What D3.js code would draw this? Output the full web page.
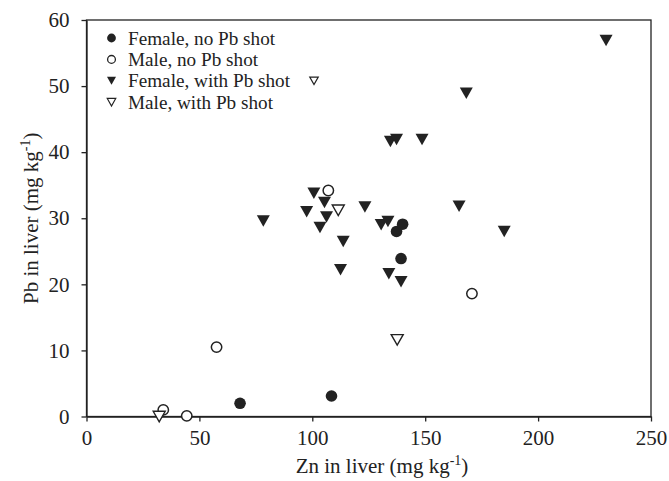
<!DOCTYPE html>
<html>
<head>
<meta charset="utf-8">
<script src="https://cdn.jsdelivr.net/npm/d3@7"></script>
<style>
  html, body { margin: 0; padding: 0; background: #fff; }
  svg { display: block; }
  text { font-family: "Liberation Serif", "Times New Roman", serif; fill: #222; }
</style>
</head>
<body>
<script>
// ---- data (Zn mg/kg, Pb mg/kg) ----
const femaleNoShotZn = [68, 108.5, 137.3, 140, 139.3];
const femaleNoShotPb = [2.0, 3.1, 28.0, 29.1, 23.9];

const maleNoShotZn = [34, 44.4, 57.6, 107.1, 170.7];
const maleNoShotPb = [1.0, 0.1, 10.5, 34.2, 18.6];

const femaleShotZn = [78.3, 100.7, 105.4, 97.5, 106.3, 103.4, 123.3, 113.7, 112.5, 130.5,
                      133.5, 134.6, 137.3, 148.6, 165, 133.9, 139.3, 230.1, 168.2, 185];
const femaleShotPb = [29.6, 33.8, 32.4, 31.0, 30.2, 28.6, 31.7, 26.5, 22.2, 29.0,
                      29.5, 41.6, 41.9, 41.9, 31.8, 21.6, 20.4, 56.9, 48.9, 28.0];

const maleShotZn = [32.2, 111.5, 137.6];
const maleShotPb = [0, 31.2, 11.6];

const xTicks = [0, 50, 100, 150, 200, 250];
const yTicks = [0, 10, 20, 30, 40, 50, 60];
const legendLabels = ["Female, no Pb shot", "Male, no Pb shot", "Female, with Pb shot", "Male, with Pb shot"];

// ---- layout ----
const W = 669, H = 481;
const pL = 86.5, pR = 651, pT = 20, pB = 416.5;
const ink = "#222";
const FS = 21;
const LFS = 19.2;

const svg = d3.select("body").append("svg").attr("width", W).attr("height", H);
svg.append("rect").attr("width", W).attr("height", H).attr("fill", "#fff");

const x = d3.scaleLinear().domain([0, 250]).range([pL, pR]);
const y = d3.scaleLinear().domain([0, 60]).range([pB, pT]);

// frame
svg.append("rect").attr("x", pL).attr("y", pT).attr("width", pR - pL).attr("height", pB - pT)
  .attr("fill", "none").attr("stroke", ink).attr("stroke-width", 1.3);

const xAxis = svg.append("g").attr("transform", `translate(0,${pB})`)
  .call(d3.axisBottom(x).tickValues(xTicks).tickSize(5).tickSizeOuter(0).tickPadding(9).tickFormat(d3.format("d")));
const yAxis = svg.append("g").attr("transform", `translate(${pL},0)`)
  .call(d3.axisLeft(y).tickValues(yTicks).tickSize(5).tickSizeOuter(0).tickPadding(12).tickFormat(d3.format("d")));
[xAxis, yAxis].forEach(g => {
  g.select(".domain").attr("stroke", ink).attr("stroke-width", 1.3);
  g.selectAll(".tick line").attr("stroke", ink).attr("stroke-width", 1.3);
  g.selectAll(".tick text").attr("font-size", FS).attr("fill", ink)
    .style("font-family", '"Liberation Serif", "Times New Roman", serif');
});

// axis titles
const xt = svg.append("text").attr("x", 382).attr("y", 473).attr("text-anchor", "middle").attr("font-size", FS);
xt.append("tspan").text("Zn in liver (mg kg");
xt.append("tspan").attr("font-size", 14).attr("dy", -8).text("-1");
xt.append("tspan").attr("dy", 8).text(")");

const yt = svg.append("text").attr("transform", `translate(38,${(pT + pB) / 2}) rotate(-90)`)
  .attr("text-anchor", "middle").attr("font-size", FS);
yt.append("tspan").text("Pb in liver (mg kg");
yt.append("tspan").attr("font-size", 14).attr("dy", -8).text("-1");
yt.append("tspan").attr("dy", 8).text(")");

// marker helpers
function tri(w, h) { return `M${-w/2},${-h/2}L${w/2},${-h/2}L0,${h/2}Z`; }
function zip(a, b) { return a.map((v, i) => [v, b[i]]); }

const plot = svg.append("g");

plot.selectAll(".fc").data(zip(femaleNoShotZn, femaleNoShotPb)).join("circle")
  .attr("cx", d => x(d[0])).attr("cy", d => y(d[1])).attr("r", 5.8).attr("fill", ink);
plot.selectAll(".mc").data(zip(maleNoShotZn, maleNoShotPb)).join("circle")
  .attr("cx", d => x(d[0])).attr("cy", d => y(d[1])).attr("r", 5.2)
  .attr("fill", "#fff").attr("stroke", ink).attr("stroke-width", 1.5);
plot.selectAll(".ft").data(zip(femaleShotZn, femaleShotPb)).join("path")
  .attr("transform", d => `translate(${x(d[0])},${y(d[1])})`).attr("d", tri(13, 11.5)).attr("fill", ink);
plot.selectAll(".mt").data(zip(maleShotZn, maleShotPb)).join("path")
  .attr("transform", d => `translate(${x(d[0])},${y(d[1])})`).attr("d", tri(12, 10.5))
  .attr("fill", "#fff").attr("stroke", ink).attr("stroke-width", 1.4);

// legend
const lg = svg.append("g");
const rowY = [38, 59.4, 80.8, 102.2];
const mx = 111.5, tx = 128;
lg.append("circle").attr("cx", mx).attr("cy", rowY[0]).attr("r", 4.4).attr("fill", ink);
lg.append("circle").attr("cx", mx).attr("cy", rowY[1]).attr("r", 3.9).attr("fill", "#fff").attr("stroke", ink).attr("stroke-width", 1.3);
lg.append("path").attr("transform", `translate(${mx},${rowY[2]})`).attr("d", tri(9, 8)).attr("fill", ink);
lg.append("path").attr("transform", `translate(${mx},${rowY[3]})`).attr("d", tri(8.5, 7.5)).attr("fill", "#fff").attr("stroke", ink).attr("stroke-width", 1.2);
lg.append("path").attr("transform", `translate(314,${rowY[2]})`).attr("d", tri(8.5, 7.5)).attr("fill", "#fff").attr("stroke", ink).attr("stroke-width", 1.2);
legendLabels.forEach((t, i) => {
  lg.append("text").attr("x", tx).attr("y", rowY[i] + 6.5).attr("font-size", LFS).text(t);
});
</script>
</body>
</html>
